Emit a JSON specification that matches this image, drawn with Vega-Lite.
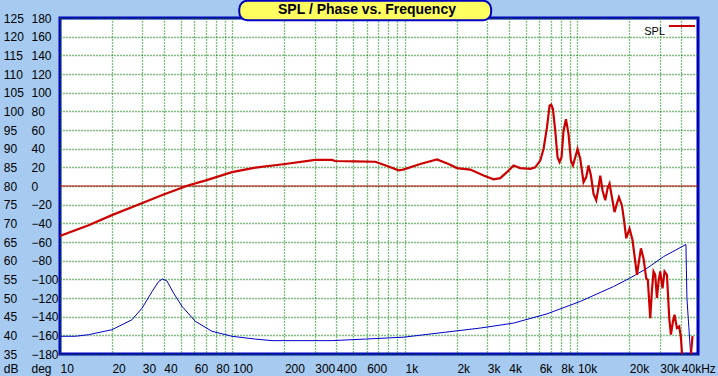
{
  "$schema": "https://vega.github.io/schema/vega-lite/v6.json",
  "width": 638,
  "height": 336,
  "autosize": {"type": "none"},
  "padding": {"left": 60, "top": 18, "right": 20, "bottom": 22},
  "background": "#A6CAF0",
  "view": {"fill": "white", "stroke": "#0000C0", "strokeWidth": 3},
  "title": {"text": "SPL / Phase vs. Frequency", "font": "Liberation Sans", "fontSize": 14, "fontWeight": "bold", "color": "black", "anchor": "middle", "dx": -12, "offset": -28, "baseline": "alphabetic"},
  "config": {
    "font": "Liberation Sans",
    "axis": {"domain": false, "ticks": false, "tickSize": 0, "labelFont": "Liberation Sans", "labelFontSize": 12, "labelColor": "black", "gridColor": "#008000", "gridDash": [1, 2], "gridWidth": 1.3, "gridOpacity": 1, "labelFlush": false, "labelOverlap": false, "titleFont": "Liberation Sans", "titleFontSize": 12, "titleFontWeight": "normal", "titleColor": "black"}
  },
  "datasets": {
    "spl": [
      {"f": 10, "db": 66.6}, {"f": 14.65, "db": 69.5}, {"f": 20, "db": 72.2}, {"f": 30.3, "db": 75.5}, {"f": 39.9, "db": 77.7}, {"f": 55.7, "db": 80.2}, {"f": 70.2, "db": 81.5}, {"f": 99.3, "db": 83.7}, {"f": 135.6, "db": 84.9}, {"f": 202, "db": 85.9}, {"f": 302, "db": 87.0}, {"f": 377, "db": 87.0}, {"f": 394, "db": 86.7}, {"f": 515, "db": 86.6}, {"f": 673, "db": 86.5}, {"f": 803, "db": 85.2}, {"f": 918, "db": 84.2}, {"f": 977, "db": 84.4}, {"f": 1227, "db": 85.9}, {"f": 1533, "db": 87.1}, {"f": 1789, "db": 85.9}, {"f": 2001, "db": 84.8}, {"f": 2391, "db": 84.4}, {"f": 2856, "db": 82.8}, {"f": 3263, "db": 81.8}, {"f": 3568, "db": 82.1}, {"f": 3902, "db": 83.7}, {"f": 4263, "db": 85.5}, {"f": 4661, "db": 84.8}, {"f": 5327, "db": 84.6}, {"f": 5692, "db": 85.0}, {"f": 6084, "db": 86.8}, {"f": 6362, "db": 89.9}, {"f": 6657, "db": 95.7}, {"f": 6893, "db": 101.5}, {"f": 7050, "db": 101.8}, {"f": 7211, "db": 100.6}, {"f": 7436, "db": 94.8}, {"f": 7667, "db": 87.7}, {"f": 7874, "db": 86.4}, {"f": 8087, "db": 87.7}, {"f": 8306, "db": 94.8}, {"f": 8576, "db": 97.9}, {"f": 8879, "db": 93.9}, {"f": 9168, "db": 86.8}, {"f": 9417, "db": 85.5}, {"f": 9710, "db": 87.7}, {"f": 10013, "db": 89.9}, {"f": 10380, "db": 87.3}, {"f": 10850, "db": 81.0}, {"f": 11246, "db": 82.4}, {"f": 11596, "db": 85.5}, {"f": 11975, "db": 82.8}, {"f": 12396, "db": 77.9}, {"f": 12853, "db": 76.2}, {"f": 13253, "db": 79.7}, {"f": 13560, "db": 82.8}, {"f": 13983, "db": 78.8}, {"f": 14496, "db": 76.2}, {"f": 14947, "db": 79.3}, {"f": 15351, "db": 80.6}, {"f": 15849, "db": 77.0}, {"f": 16410, "db": 73.0}, {"f": 16943, "db": 75.3}, {"f": 17402, "db": 77.0}, {"f": 18113, "db": 74.8}, {"f": 18677, "db": 70.4}, {"f": 19183, "db": 66.0}, {"f": 20045, "db": 68.6}, {"f": 20864, "db": 65.5}, {"f": 21630, "db": 59.8}, {"f": 22125, "db": 56.2}, {"f": 23337, "db": 63.3}, {"f": 24162, "db": 60.6}, {"f": 25048, "db": 55.3}, {"f": 25600, "db": 54.8}, {"f": 26424, "db": 44.6}, {"f": 27030, "db": 52.0}, {"f": 27615, "db": 57.1}, {"f": 28247, "db": 56.2}, {"f": 28897, "db": 50.0}, {"f": 29520, "db": 54.4}, {"f": 30200, "db": 57.1}, {"f": 31141, "db": 52.6}, {"f": 31986, "db": 57.1}, {"f": 33026, "db": 56.2}, {"f": 34060, "db": 44.6}, {"f": 34834, "db": 40.2}, {"f": 35775, "db": 43.7}, {"f": 36550, "db": 45.5}, {"f": 37740, "db": 42.0}, {"f": 38915, "db": 42.4}, {"f": 39811, "db": 39.3}, {"f": 40672, "db": 33.0}, {"f": 42730, "db": 28.0}, {"f": 45080, "db": 33.0}, {"f": 46486, "db": 39.8}
    ],
    "phase": [
      {"f": 10, "deg": -161}, {"f": 12.3, "deg": -161}, {"f": 14.65, "deg": -159.3}, {"f": 20, "deg": -154}, {"f": 26.1, "deg": -143.4}, {"f": 29.9, "deg": -130.9}, {"f": 34.2, "deg": -113}, {"f": 37.3, "deg": -102.4}, {"f": 39.3, "deg": -99.6}, {"f": 41.7, "deg": -101.8}, {"f": 45.6, "deg": -114.9}, {"f": 51, "deg": -129}, {"f": 60.9, "deg": -145}, {"f": 76.1, "deg": -155.7}, {"f": 99.3, "deg": -161}, {"f": 135.6, "deg": -164}, {"f": 169.4, "deg": -165.7}, {"f": 377, "deg": -165.7}, {"f": 589, "deg": -164}, {"f": 982, "deg": -162}, {"f": 2732, "deg": -152.2}, {"f": 4263, "deg": -146.9}, {"f": 6657, "deg": -137}, {"f": 10380, "deg": -123.7}, {"f": 16196, "deg": -107.7}, {"f": 20045, "deg": -98.9}, {"f": 25289, "deg": -88.2}, {"f": 31558, "deg": -75.7}, {"f": 42560, "deg": -62.6}, {"f": 43130, "deg": -120.2}, {"f": 45080, "deg": -174}, {"f": 45500, "deg": -186}
    ],
    "box": [
      {"f1": 109.5, "f2": 3160, "top": 129.6, "bot": 124.4}
    ]
  },
  "layer": [
    {
      "data": {"name": "phase"},
      "mark": {"type": "line", "color": "#0000CC", "strokeWidth": 1, "clip": true},
      "encoding": {
        "x": {"field": "f", "type": "quantitative", "scale": {"type": "log", "domain": [10, 50000], "nice": false},
          "axis": {"orient": "bottom", "values": [10, 20, 30, 40, 50, 60, 70, 80, 90, 100, 200, 300, 400, 500, 600, 700, 800, 900, 1000, 2000, 3000, 4000, 5000, 6000, 7000, 8000, 9000, 10000, 20000, 30000, 40000], "grid": true, "labelAlign": "left", "labelBaseline": "alphabetic", "labelPadding": 18, "title": null,
            "labelExpr": "indexof([10,20,30,40,60,80,100,200,300,400,600,1000,2000,3000,4000,6000,8000,10000,20000,30000], datum.value) >= 0 ? (datum.value >= 1000 ? (datum.value / 1000) + 'k' : '' + datum.value) : (datum.value == 40000 ? '40kHz' : '')"}},
        "y": {"field": "deg", "type": "quantitative", "scale": {"domain": [-180, 180], "nice": false, "zero": false},
          "axis": {"orient": "left", "values": [-180, -160, -140, -120, -100, -80, -60, -40, -20, 0, 20, 40, 60, 80, 100, 120, 140, 160, 180], "grid": false, "labelAlign": "left", "labelBaseline": "middle", "labelPadding": 29, "title": "deg", "titleAngle": 0, "titleX": -29, "titleY": 354, "titleAlign": "left", "titleBaseline": "alphabetic"}}
      }
    },
    {
      "data": {"values": [{}]},
      "mark": {"type": "rule", "color": "#B00000", "strokeWidth": 1},
      "encoding": {"y": {"datum": 80, "type": "quantitative", "scale": {"domain": [35, 125], "nice": false, "zero": false}, "axis": null}}
    },
    {
      "data": {"name": "spl"},
      "mark": {"type": "line", "strokeWidth": 2.2, "clip": true},
      "encoding": {
        "x": {"field": "f", "type": "quantitative"},
        "y": {"field": "db", "type": "quantitative", "scale": {"domain": [35, 125], "nice": false, "zero": false},
          "axis": {"orient": "left", "values": [35, 40, 45, 50, 55, 60, 65, 70, 75, 80, 85, 90, 95, 100, 105, 110, 115, 120, 125], "grid": true, "labelAlign": "left", "labelBaseline": "middle", "labelPadding": 56.7, "title": "dB", "titleAngle": 0, "titleX": -56.7, "titleY": 354, "titleAlign": "left", "titleBaseline": "alphabetic"}},
        "color": {"datum": "SPL", "scale": {"range": ["#CC0000"]},
          "legend": {"orient": "none", "legendX": 608, "legendY": -6, "symbolType": "stroke", "symbolSize": 676, "symbolStrokeWidth": 2, "labelAlign": "right", "labelOffset": -31, "labelFont": "Liberation Sans", "labelFontSize": 11, "labelBaseline": "top", "labelColor": "black", "title": null, "padding": 0}}
      }
    },
    {
      "data": {"name": "box"},
      "mark": {"type": "rect", "fill": "#FFFF60", "stroke": "#0000C0", "strokeWidth": 2, "cornerRadius": 8, "clip": false},
      "encoding": {
        "x": {"field": "f1", "type": "quantitative"},
        "x2": {"field": "f2"},
        "y": {"field": "top", "type": "quantitative", "scale": {"domain": [35, 125], "nice": false, "zero": false}, "axis": null},
        "y2": {"field": "bot"}
      }
    }
  ],
  "resolve": {"scale": {"y": "independent"}, "axis": {"y": "independent"}}
}
